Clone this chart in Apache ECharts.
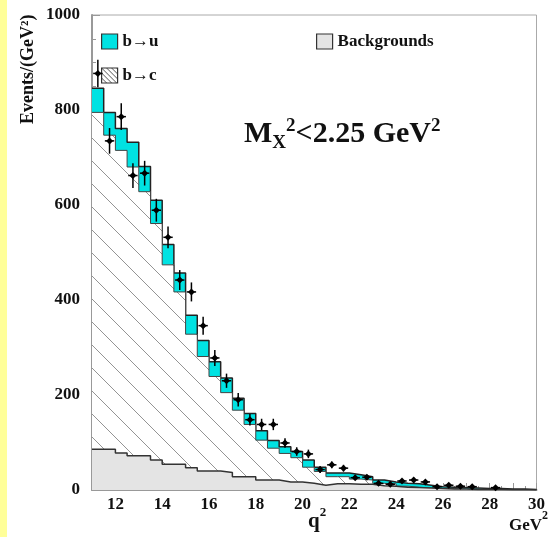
<!DOCTYPE html>
<html><head><meta charset="utf-8">
<script src="https://cdn.jsdelivr.net/npm/echarts@6/dist/echarts.min.js"></script>
<style>html,body{margin:0;padding:0;background:#fff}#c{width:548px;height:537px}</style>
</head><body><div id="c"></div>
<script>
// bin edges (GeV^2)
const binEdges = [11,11.5,12,12.5,13,13.5,14,14.5,15,15.5,16,16.5,17,17.5,18,18.5,19,19.5,20,20.5,21,21.5,22,22.5,23,23.5,24,24.5,25,25.5,26,26.5,27,27.5,28,28.5,29,29.5,30];
// per-bin contributions (stacked)
const bkg  = [86,86,78,72,72,63,54,54,47,40,40,37,28,28,21,21,17,17,14,10,13,13,12,12,9,8,6,5,4,3,2,2,1,1,1,0.5,0.5,0.3];
const bToC = [709,661,637,608,556,498,420,363,281,241,199,168,140,110,84,67,60,51,34,29,15,15,11,9,5,5,2,1,0,0,1,0,1,0,0,0.5,0.5,0.2];
const bToU = [51,48,46,52,53,49,43,40,40,34,31,31,25,23,20,16,14,13,15,9,8,8,9,7,7,4,6,7,6,4,3,3,2,2,2,1,1,0.5];
// data points
const dataQ2  = [11.25,11.75,12.25,12.75,13.25,13.75,14.25,14.75,15.25,15.75,16.25,16.75,17.25,17.75,18.25,18.75,19.25,19.75,20.25,20.75,21.25,21.75,22.25,22.75,23.25,23.75,24.25,24.75,25.25,25.75,26.25,26.75,27.25,28.25];
const dataVal = [877,735,786,662,667,589,532,442,417,346,278,230,190,148,138,138,99,81,76,43,53,46,26,27,14,12,19,21,17,7,10,8,7,5];
const dataErr = [29,27,28,26,26,24,23,21,20,19,17,15,14,12,12,12,10,9,9,7,7,7,5,5,4,3,4,5,4,3,3,3,3,2];
const halfBin = 0.2;

const FONT = 'Liberation Serif';
const CYAN = '#00E2E2';
const GRAYFILL = '#e4e4e4';

function hatch(size, color, lw, bg) {
  const c = document.createElement('canvas');
  c.width = size; c.height = size;
  const g = c.getContext('2d');
  if (bg) { g.fillStyle = bg; g.fillRect(0, 0, size, size); }
  g.strokeStyle = color; g.lineWidth = lw;
  g.beginPath();
  for (const k of [-size, 0, size]) { g.moveTo(k - 1, -1); g.lineTo(k + size + 1, size + 1); }
  g.stroke();
  return c;
}
const hatchBig = hatch(23, '#949494', 1, '#ffffff');
const hatchSmall = hatch(5, '#555', 1, '#ffffff');

// cumulative stacks built from the component arrays
const cumBkg = bkg.slice();
const cumBC = bkg.map((v, i) => v + bToC[i]);
const cumAll = cumBC.map((v, i) => v + bToU[i]);

function stepData(vals) {
  return binEdges.map((e, i) => [e, vals[Math.min(i, vals.length - 1)]]);
}

const chart = echarts.init(document.getElementById('c'), null, {renderer: 'canvas'});
const txt = {fontFamily: FONT, fontWeight: 'bold', color: '#111'};

chart.setOption({
  animation: false,
  backgroundColor: '#fff',
  grid: {left: 92, right: 8, top: 15, bottom: 47, show: true, borderColor: '#aaa', borderWidth: 1, backgroundColor: '#fff'},
  xAxis: {
    type: 'value', min: 11, max: 30, interval: 1,
    axisLine: {show: true, onZero: false, lineStyle: {color: '#999', width: 2}},
    axisTick: {inside: true, length: 7, lineStyle: {color: '#999'}},
    minorTick: {show: true, splitNumber: 2, length: 4, lineStyle: {color: '#999'}},
    splitLine: {show: false},
    axisLabel: Object.assign({fontSize: 17, margin: 6, formatter: v => (v % 2 === 0 ? String(v) : '')}, txt)
  },
  yAxis: {
    type: 'value', min: 0, max: 1000, interval: 200,
    axisLine: {show: true, lineStyle: {color: '#999', width: 2}},
    axisTick: {inside: true, length: 8, lineStyle: {color: '#999'}},
    minorTick: {show: true, splitNumber: 4, length: 4, lineStyle: {color: '#999'}},
    splitLine: {show: false},
    axisLabel: Object.assign({fontSize: 17, margin: 12, formatter: v => String(v)}, txt)
  },
  legend: [
    {left: 96, top: 28, orient: 'vertical', itemGap: 17, itemWidth: 16, itemHeight: 15, selectedMode: false,
     textStyle: Object.assign({fontSize: 17}, txt),
     data: [
       {name: 'b→u', icon: 'rect', itemStyle: {color: CYAN, borderColor: '#333', borderWidth: 1.2}},
       {name: 'b→c', icon: 'rect', itemStyle: {color: {image: hatchSmall, repeat: 'repeat'}, borderColor: '#333', borderWidth: 1.2}}
     ]},
    {left: 311, top: 28, itemWidth: 16, itemHeight: 15, selectedMode: false,
     textStyle: Object.assign({fontSize: 17}, txt),
     data: [{name: 'Backgrounds', icon: 'rect', itemStyle: {color: GRAYFILL, borderColor: '#333', borderWidth: 1.2}}]}
  ],
  graphic: [
    {type: 'rect', left: 0, top: 0, shape: {width: 7, height: 537}, style: {fill: '#FFFF99'}, z: 0},
    {type: 'text', x: 28, y: 124, rotation: Math.PI / 2,
     style: {text: 'Events/(GeV²)', font: 'bold 18px "Liberation Serif"', fill: '#111', textAlign: 'left', textVerticalAlign: 'middle'}},
    {type: 'text', x: 244, y: 115,
     style: {text: '{a|M}{sub|X}{sup|2}{a|<2.25 GeV}{sup|2}', fill: '#111',
       rich: {
         a: {fontFamily: FONT, fontWeight: 'bold', fontSize: 30, lineHeight: 38, verticalAlign: 'middle'},
         sup: {fontFamily: FONT, fontWeight: 'bold', fontSize: 19, lineHeight: 38, verticalAlign: 'top', padding: [2, 0, 0, 0]},
         sub: {fontFamily: FONT, fontWeight: 'bold', fontSize: 19, lineHeight: 38, verticalAlign: 'bottom'}
       }}},
    {type: 'text', x: 308, y: 506,
     style: {text: '{a|q}{sup|2}', fill: '#111',
       rich: {a: {fontFamily: FONT, fontWeight: 'bold', fontSize: 21, lineHeight: 26, verticalAlign: 'bottom'},
              sup: {fontFamily: FONT, fontWeight: 'bold', fontSize: 13, lineHeight: 26, verticalAlign: 'top'}}}},
    {type: 'text', x: 548, y: 510,
     style: {text: '{a|GeV}{sup|2}', fill: '#111', textAlign: 'right',
       rich: {a: {fontFamily: FONT, fontWeight: 'bold', fontSize: 17, lineHeight: 24, verticalAlign: 'bottom'},
              sup: {fontFamily: FONT, fontWeight: 'bold', fontSize: 12, lineHeight: 24, verticalAlign: 'top'}}}}
  ],
  series: [
    {name: 'b→u', type: 'line', step: 'end', data: stepData(cumAll), symbol: 'none', showSymbol: false,
     lineStyle: {color: '#222', width: 1.5}, itemStyle: {color: CYAN}, areaStyle: {color: CYAN, opacity: 1}, z: 2},
    {name: 'b→c', type: 'line', step: 'end', data: stepData(cumBC), symbol: 'none', showSymbol: false,
     lineStyle: {color: '#444', width: 1}, itemStyle: {color: '#888'}, areaStyle: {color: {image: hatchBig, repeat: 'repeat'}, opacity: 1}, z: 3},
    {name: 'Backgrounds', type: 'line', step: 'end', data: stepData(cumBkg), symbol: 'none', showSymbol: false,
     lineStyle: {color: '#333', width: 1.5}, itemStyle: {color: GRAYFILL}, areaStyle: {color: GRAYFILL, opacity: 1}, z: 4},
    {name: 'Data', type: 'custom', z: 10,
     data: dataQ2.map((q, i) => [q, dataVal[i], dataErr[i]]),
     renderItem: function (params, api) {
       const x = api.value(0), y = api.value(1), e = api.value(2);
       const c = api.coord([x, y]);
       const t = api.coord([x, y + e]);
       const b = api.coord([x, Math.max(0, y - e)]);
       const l = api.coord([x - halfBin, y]);
       const r = api.coord([x + halfBin, y]);
       const s = 3.5;
       return {type: 'group', children: [
         {type: 'line', shape: {x1: t[0], y1: t[1], x2: b[0], y2: b[1]}, style: {stroke: '#000', lineWidth: 1.5}},
         {type: 'line', shape: {x1: l[0], y1: l[1], x2: r[0], y2: r[1]}, style: {stroke: '#000', lineWidth: 1.5}},
         {type: 'polygon', shape: {points: [[c[0], c[1] - s], [c[0] + s, c[1]], [c[0], c[1] + s], [c[0] - s, c[1]]]}, style: {fill: '#000'}}
       ]};
     }}
  ]
});
</script>
</body></html>
